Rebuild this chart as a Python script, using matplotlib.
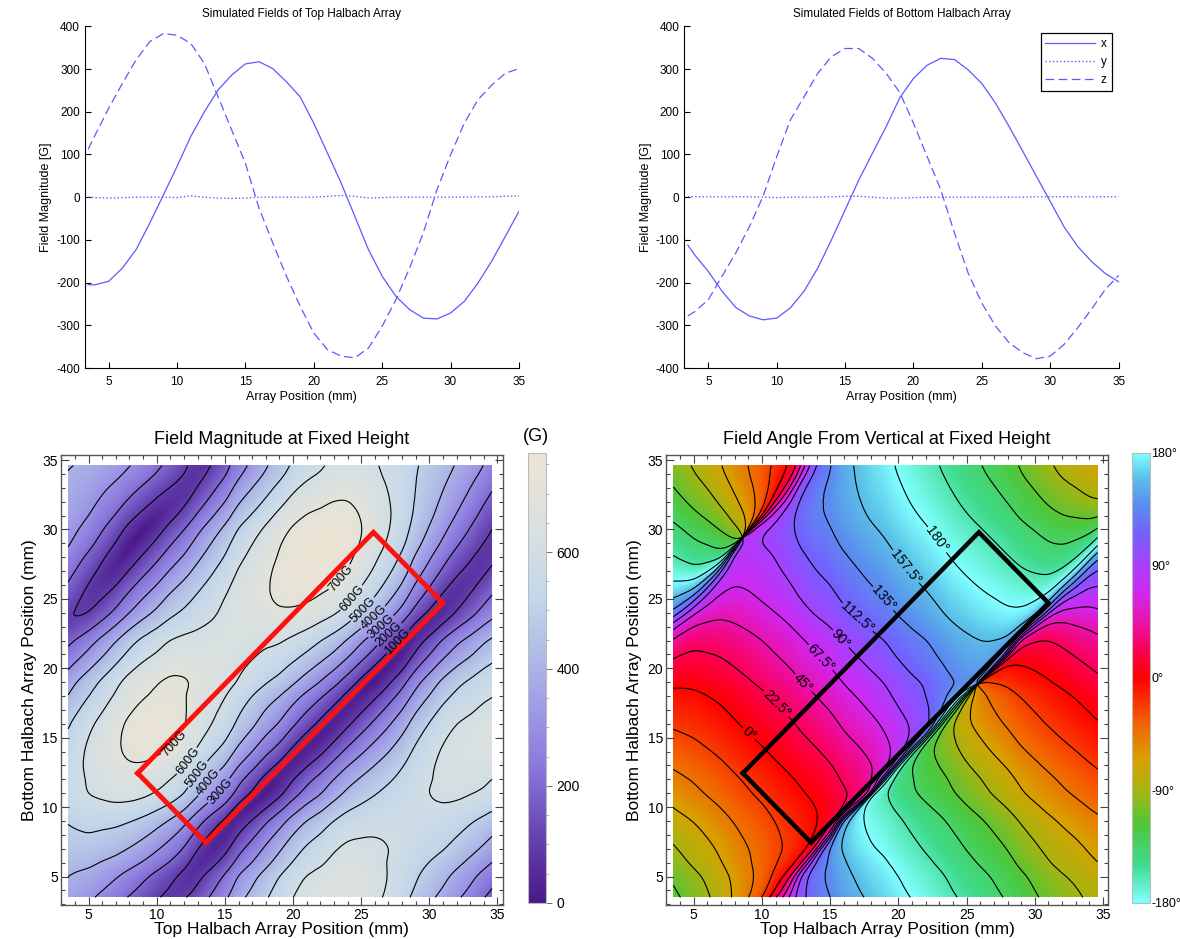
import numpy as np
import matplotlib
matplotlib.use('Agg')
import matplotlib.pyplot as plt
import matplotlib.tri as mtri
from matplotlib.colors import LinearSegmentedColormap
from matplotlib.ticker import MultipleLocator

plt.rcParams['font.family'] = ['Liberation Sans', 'DejaVu Sans']
plt.rcParams['axes.unicode_minus'] = False

# Simulated field components along each array (G), sampled at these positions (mm)
position = [3.5, 4, 5, 6, 7, 8, 9, 10, 11, 12, 13, 14, 15, 16, 17, 18, 19,
            20, 21, 22, 23, 24, 25, 26, 27, 28, 29, 30, 31, 32, 33, 34, 35]

top_x = [-205, -205, -197, -166, -123, -61, 5, 72, 142, 200, 251, 286, 312, 317,
         301, 270, 235, 173, 103, 33, -45, -123, -185, -232, -263, -283, -285,
         -271, -244, -201, -150, -92, -33]
top_y = [0, -1, -2, -1, 0, 0, 0, -1, 3, 0, -2, -3, -2, 0, 0, 0, 0, 0, 2, 4, 2,
         -2, -1, 0, 0, 0, 0, 0, 0, 1, 1, 2, 3]
top_z = [112, 145, 208, 266, 321, 364, 383, 379, 360, 313, 235, 157, 79, -26,
         -107, -185, -255, -318, -357, -372, -376, -353, -302, -240, -166, -84,
         17, 99, 173, 228, 262, 290, 301]

bot_x = [-112, -135, -174, -220, -258, -278, -287, -283, -259, -220, -166, -100,
         -30, 40, 103, 165, 233, 278, 309, 325, 322, 298, 266, 220, 165, 107, 48,
         -10, -69, -115, -150, -178, -198]
bot_y = [1, 1, 1, 1, 1, 1, 0, -1, 0, 0, 0, 1, 2, 2, 0, -2, -2, -1, 0, 0, 0, 0,
         0, 0, 0, 0, 1, 1, 1, 1, 1, 1, 1]
bot_z = [-278, -268, -240, -185, -131, -69, 2, 95, 181, 235, 290, 329, 348, 348,
         325, 290, 245, 173, 95, 17, -84, -178, -248, -302, -341, -364, -378,
         -372, -345, -306, -263, -217, -183]

# Operating window drawn on both maps (top mm, bottom mm)
window_t = [8.6, 25.9, 31.0, 13.6, 8.6]
window_b = [12.45, 29.8, 24.7, 7.45, 12.45]

mag_levels = [100, 200, 300, 400, 500, 600, 700]
mag_top = 770
mag_label_pos = [(22.3, 27.5), (23.9, 25.4), (24.75, 24.6), (25.5, 24.1),
                 (26.2, 23.3), (26.7, 22.85), (27.4, 22.2),
                 (10.3, 15.4), (11.9, 13.55), (12.7, 12.6), (13.45, 12.0),
                 (14.2, 11.5)]
angle_levels = [-157.5, -135, -112.5, -90, -67.5, -45, -22.5, 0,
                22.5, 45, 67.5, 90, 112.5, 135, 157.5]
angle_label_pos = [(9.7, 16.0), (11.4, 17.8), (13.5, 19.4), (14.6, 21.1),
                   (16.3, 22.6), (17.55, 24.3), (19.4, 25.5), (20.9, 27.6)]
angle_180_pos = [(23.1, 29.45)]

blue = '#5a5aff'

mag_cmap = LinearSegmentedColormap.from_list('lavender', [
    (0.0, '#4a1889'), (0.15, '#6644b2'), (0.3, '#8a78dc'), (0.42, '#9d98e6'),
    (0.55, '#afbbe6'), (0.68, '#c3d7ea'), (0.82, '#d7e0e2'), (1.0, '#eee5d3')])
ang_cmap = LinearSegmentedColormap.from_list('hue', [
    (0.0, '#80ffff'), (0.08, '#40dc90'), (0.17, '#4cc83c'), (0.25, '#a8b410'),
    (0.32, '#d8a000'), (0.40, '#f46000'), (0.5, '#ff0000'), (0.56, '#fa0050'),
    (0.62, '#ec10a8'), (0.69, '#d028f0'), (0.75, '#a840ff'), (0.82, '#7460ff'),
    (0.89, '#5a90ee'), (0.95, '#5cc4e8'), (1.0, '#80ffff')])

fig = plt.figure(figsize=(11.8, 9.39), dpi=100)


def line_panel(rect, title, xs, ys, zs, legend=False):
    ax = fig.add_axes(rect)
    ax.plot(position, xs, '-', color=blue, lw=0.9, label='x')
    ax.plot(position, ys, ':', color=blue, lw=1.0, label='y')
    ax.plot(position, zs, '--', color=blue, lw=0.9, dashes=(7, 3.5), label='z')
    ax.set_xlim(3.25, 35)
    ax.set_ylim(-400, 400)
    ax.set_xticks([5, 10, 15, 20, 25, 30, 35])
    ax.set_yticks(range(-400, 401, 100))
    ax.tick_params(direction='in', labelsize=8.5, length=4, width=0.8)
    ax.tick_params(axis='x', pad=6)
    for side in ['top', 'right']:
        ax.spines[side].set_visible(False)
    ax.set_title(title, fontsize=8.5, pad=7)
    ax.set_xlabel('Array Position (mm)', fontsize=9, labelpad=2)
    ax.set_ylabel('Field Magnitude [G]', fontsize=9, labelpad=3)
    if legend:
        leg = ax.legend(loc='upper right', fontsize=8.5, handlelength=4.2,
                        handletextpad=0.5, fancybox=False, edgecolor='black',
                        framealpha=1, borderaxespad=0.6, labelspacing=0.5)
        leg.get_frame().set_linewidth(0.9)
    return ax


line_panel([0.0718, 0.608, 0.368, 0.364], 'Simulated Fields of Top Halbach Array',
           top_x, top_y, top_z)
line_panel([0.580, 0.608, 0.368, 0.364], 'Simulated Fields of Bottom Halbach Array',
           bot_x, bot_y, bot_z, legend=True)

# Combined field at each (top, bottom) pair: rows follow bottom, columns follow top
T, B = np.meshgrid(position, position)
bx = np.add.outer(bot_x, top_x).astype(float)
bz = np.add.outer(bot_z, top_z).astype(float)
tri = mtri.Triangulation(T.ravel(), B.ravel())
fx = mtri.CubicTriInterpolator(tri, bx.ravel(), kind='geom')
fz = mtri.CubicTriInterpolator(tri, bz.ravel(), kind='geom')
gt = np.linspace(3.5, 34.6, 420)
GT, GB = np.meshgrid(gt, gt)
sx = np.asarray(fx(GT, GB))
sz = np.asarray(fz(GT, GB))
mag = np.hypot(sx, sz)
ang = np.degrees(np.arctan2(sx, sz))
extent = [gt[0], gt[-1], gt[0], gt[-1]]


def map_frame(ax, title):
    ax.set_xlim(2.95, 35.4)
    ax.set_ylim(2.95, 35.35)
    ax.set_xticks([5, 10, 15, 20, 25, 30, 35])
    ax.set_yticks([5, 10, 15, 20, 25, 30, 35])
    ax.xaxis.set_minor_locator(MultipleLocator(1))
    ax.yaxis.set_minor_locator(MultipleLocator(1))
    ax.tick_params(which='both', direction='in', top=True, right=True,
                   labelsize=10, color='#444444', width=0.8, pad=2)
    ax.tick_params(which='major', length=6)
    ax.tick_params(which='minor', length=3)
    for sp in ax.spines.values():
        sp.set_color('#555555')
        sp.set_linewidth(1.0)
    ax.set_title(title, fontsize=13, pad=8)
    ax.set_xlabel('Top Halbach Array Position (mm)', fontsize=12.5, labelpad=0)
    ax.set_ylabel('Bottom Halbach Array Position (mm)', fontsize=12.5, labelpad=4)


# Field magnitude map
ax3 = fig.add_axes([0.0514, 0.0362, 0.3748, 0.479])
im3 = ax3.imshow(mag, origin='lower', extent=extent, cmap=mag_cmap,
                 vmin=0, vmax=mag_top, aspect='auto')
cs3 = ax3.contour(GT, GB, mag, levels=mag_levels, colors='black',
                  linewidths=0.8, linestyles='solid')
ax3.clabel(cs3, fmt='%dG', fontsize=9, inline=True, inline_spacing=2,
           manual=mag_label_pos)
ax3.plot(window_t, window_b, color='#ff1010', lw=3.5, solid_joinstyle='miter')
map_frame(ax3, 'Field Magnitude at Fixed Height')

cax3 = fig.add_axes([0.4475, 0.0385, 0.0153, 0.4795])
cb3 = fig.colorbar(im3, cax=cax3)
cb3.set_ticks([0, 200, 400, 600])
cb3.ax.yaxis.set_minor_locator(MultipleLocator(50))
cb3.ax.tick_params(which='major', length=4, width=0.6, labelsize=10, color='#555555')
cb3.ax.tick_params(which='minor', length=2, width=0.5, color='#999999')
cb3.outline.set_edgecolor('#bbbbbb')
fig.text(0.4545, 0.535, '(G)', ha='center', va='center', fontsize=13)

# Field angle map
ax4 = fig.add_axes([0.5642, 0.0362, 0.3752, 0.479])
im4 = ax4.imshow(ang, origin='lower', extent=extent, cmap=ang_cmap,
                 vmin=-180, vmax=180, aspect='auto')
# keep the +/-180 wrap out of the contouring
ang_main = np.ma.masked_where(np.abs(ang) > 172, ang)
ang_wrap = np.mod(ang, 360)
ang_wrap = np.ma.masked_where((ang_wrap < 8) | (ang_wrap > 352), ang_wrap)
cs4 = ax4.contour(GT, GB, ang_main, levels=angle_levels, colors='black',
                  linewidths=0.8, linestyles='solid')
cs4b = ax4.contour(GT, GB, ang_wrap, levels=[180], colors='black',
                   linewidths=0.8, linestyles='solid')
ax4.clabel(cs4, fmt=lambda v: f'{v:g}\u00b0', fontsize=10, inline=True,
           inline_spacing=2, manual=angle_label_pos)
ax4.clabel(cs4b, fmt=lambda v: f'{v:g}\u00b0', fontsize=10, inline=True,
           inline_spacing=2, manual=angle_180_pos)
ax4.plot(window_t, window_b, color='black', lw=3.2, solid_joinstyle='miter')
map_frame(ax4, 'Field Angle From Vertical at Fixed Height')

cax4 = fig.add_axes([0.9593, 0.0385, 0.0153, 0.4795])
cb4 = fig.colorbar(im4, cax=cax4)
cb4.set_ticks([-180, -90, 0, 90, 180])
cb4.set_ticklabels(['-180\u00b0', '-90\u00b0', '0\u00b0', '90\u00b0', '180\u00b0'])
cb4.ax.tick_params(length=0, labelsize=9, pad=1)
cb4.outline.set_edgecolor('#bbbbbb')

fig.savefig('out.png', dpi=100)
